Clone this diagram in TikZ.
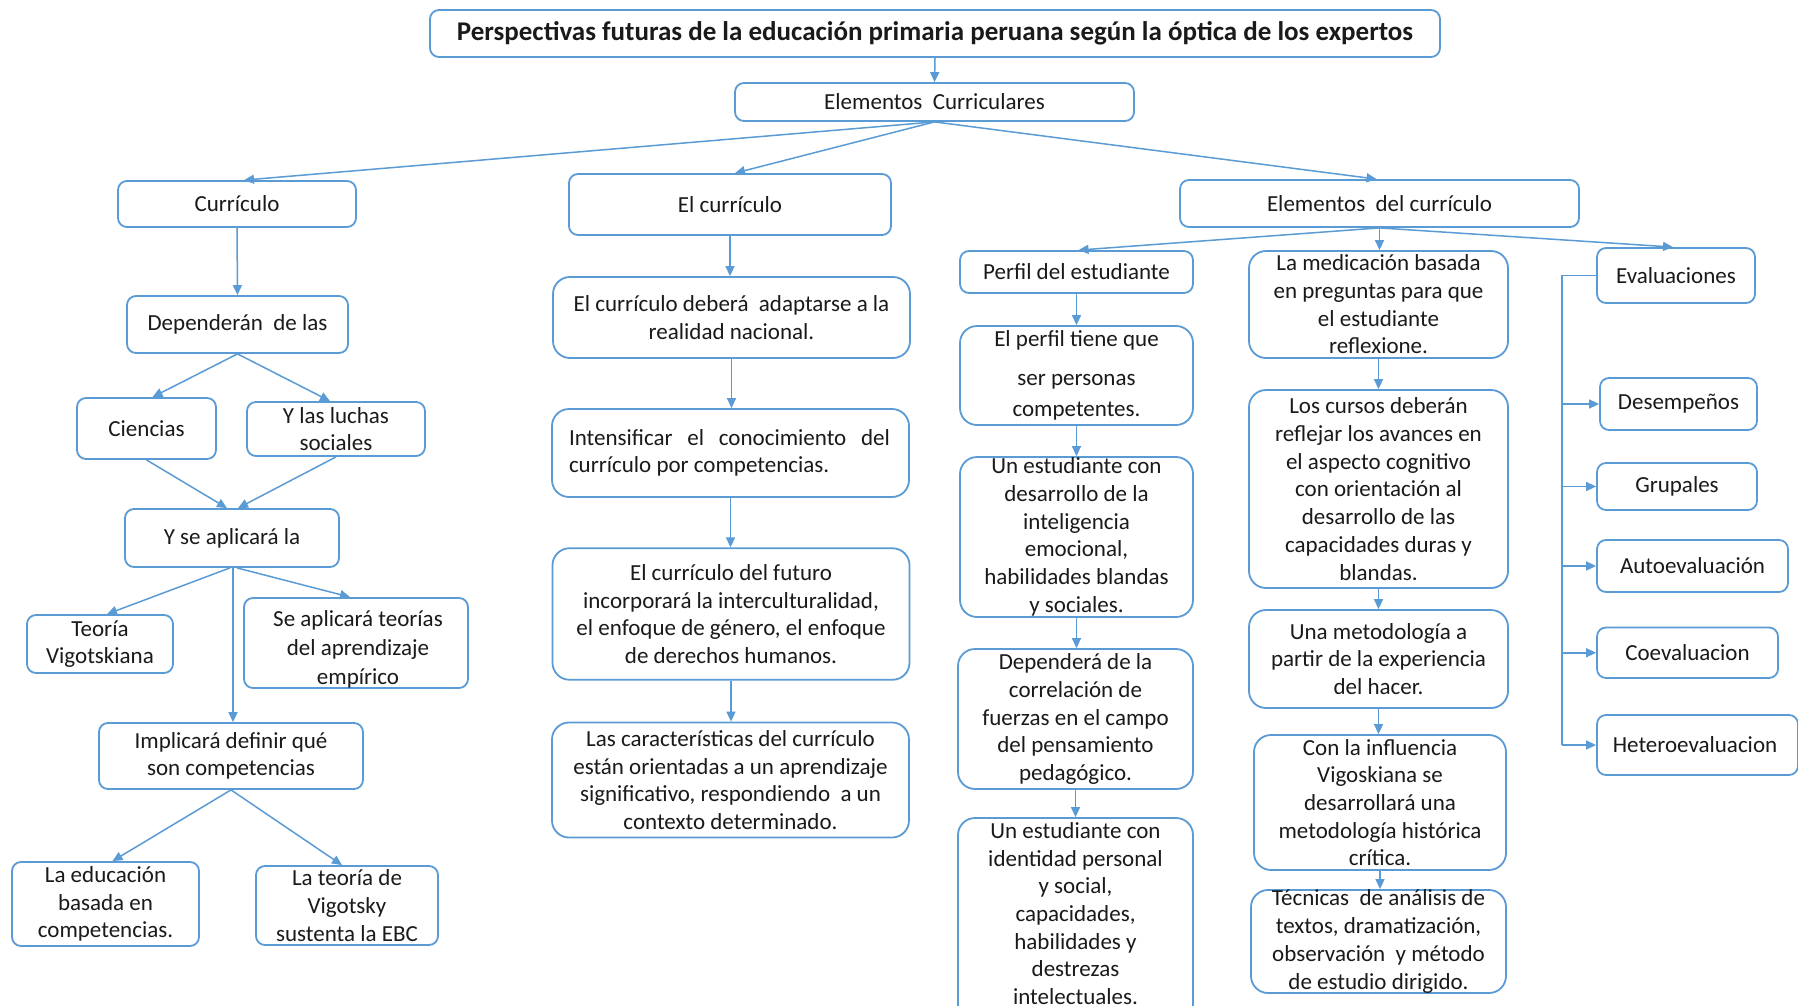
\documentclass[tikz,border=0pt]{standalone}
\usepackage{fontspec}
\setmainfont{Carlito}
\usetikzlibrary{arrows.meta,calc}
\definecolor{bl}{HTML}{5B9BD5}
\definecolor{tx}{HTML}{1A1A1A}
\newcommand{\fA}{\fontsize{23}{27.7}\selectfont}
\newcommand{\fM}{\fontsize{23}{27.6}\selectfont}
\newcommand{\fT}{\fontsize{27}{32}\selectfont\bfseries}
\begin{document}
\begin{tikzpicture}[x=1pt,y=-1pt,
 box/.style={draw=bl, line width=1.8pt, rounded corners=9pt, inner sep=0pt},
 bigbox/.style={box, rounded corners=17pt},
 txt/.style={align=center, inner sep=0pt, text=tx, font=\fA},
 mtxt/.style={align=center, inner sep=0pt, text=tx, font=\fM},
 arr/.style={draw=bl, line width=1.5pt, -{Triangle[length=10pt,width=9pt]}},
 ln/.style={draw=bl, line width=1.5pt}]
\useasboundingbox[fill=white] (0,0) rectangle (1798,1006);

% top
\node[box, minimum width=1010pt, minimum height=47pt] (T) at (935,33.5) {};
\node[txt, font=\fT] (Tt) at (T) {Perspectivas futuras de la educación primaria peruana según la óptica de los expertos};
\node[box, minimum width=399pt, minimum height=38pt] (EC) at (934.5,102) {};
\node[txt] (ECt) at (EC) {Elementos\ \ Curriculares};
\node[box, minimum width=238pt, minimum height=46pt] (CU) at (237,204) {};
\node[txt] (CUt) at (CU) {Currículo};
\node[box, minimum width=322pt, minimum height=61pt] (ELC) at (730,204.5) {};
\node[txt] (ELCt) at (ELC) {El currículo};
\node[box, minimum width=399pt, minimum height=47pt] (EDC) at (1379.5,203.5) {};
\node[txt] (EDCt) at (EDC) {Elementos\ \ del currículo};

% left tree
\node[box, minimum width=221pt, minimum height=57pt] (DEP) at (237.5,324.5) {};
\node[txt] (DEPt) at (DEP) {Dependerán\ \ de las};
\node[box, minimum width=139pt, minimum height=61pt] (CIE) at (146.5,428.5) {};
\node[txt] (CIEt) at (CIE) {Ciencias};
\node[box, minimum width=178pt, minimum height=54pt] (LUC) at (336,429) {};
\node[txt, font=\fontsize{23}{27}\selectfont] (LUCt) at (LUC) {Y las luchas\\sociales};
\node[box, minimum width=214pt, minimum height=58pt] (YSE) at (232,538) {};
\node[txt] (YSEt) at (YSE) {Y se aplicará la};
\node[box, minimum width=146pt, minimum height=58pt] (TEO) at (100,644) {};
\node[txt, font=\fontsize{23}{27}\selectfont] (TEOt) at (TEO) {Teoría\\Vigotskiana};
\node[box, minimum width=224pt, minimum height=90pt] (SEA) at (356,643) {};
\node[txt, font=\fontsize{23}{29}\selectfont] (SEAt) at (358,649) {Se aplicará teorías\\del aprendizaje\\empírico};
\node[box, minimum width=264pt, minimum height=66pt] (IMP) at (231,756) {};
\node[txt, font=\fontsize{23}{27}\selectfont] (IMPt) at (IMP) {Implicará definir qué\\son competencias};
\node[box, minimum width=187pt, minimum height=84pt] (LED) at (105.5,904) {};
\node[txt] (LEDt) at (LED) {La educación\\basada en\\competencias.};
\node[box, minimum width=182pt, minimum height=79pt] (LTV) at (347,905.5) {};
\node[txt] (LTVt) at (LTV) {La teoría de\\Vigotsky\\sustenta la EBC};

% middle column
\node[bigbox, minimum width=357pt, minimum height=81pt] (M1) at (731.5,317.5) {};
\node[mtxt] (M1t) at (M1) {El currículo deberá\ \ adaptarse a la\\realidad nacional.};
\node[bigbox, minimum width=357pt, minimum height=88pt] (M2) at (730.5,453) {};
\node[mtxt] (M2t) at (729.5,453) {\parbox{321pt}{\fM Intensificar\hfill el\hfill conocimiento\hfill del\\currículo por competencias.}};
\node[bigbox, minimum width=357pt, minimum height=131.5pt] (M3) at (731,614) {};
\node[mtxt] (M3t) at (M3) {El currículo del futuro\\incorporará la interculturalidad,\\el enfoque de género, el enfoque\\de derechos humanos.};
\node[bigbox, minimum width=357pt, minimum height=115pt] (M4) at (730.5,780) {};
\node[mtxt] (M4t) at (M4) {Las características del currículo\\están orientadas a un aprendizaje\\significativo, respondiendo\ \ a un\\contexto determinado.};

% column R1
\node[box, minimum width=233pt, minimum height=42pt] (PER) at (1076.5,272) {};
\node[txt] (PERt) at (PER) {Perfil del estudiante};
\node[bigbox, minimum width=233pt, minimum height=99pt] (EPT) at (1076.5,375.5) {};
\node[txt] (EPTt) at (EPT) {El perfil tiene que\\[11pt]ser personas\\[3pt]competentes.};
\node[bigbox, minimum width=233pt, minimum height=160pt] (UEC) at (1076.5,537) {};
\node[txt] (UECt) at (UEC) {Un estudiante con\\desarrollo de la\\inteligencia\\emocional,\\habilidades blandas\\y sociales.};
\node[bigbox, minimum width=235pt, minimum height=140pt] (DDL) at (1075.5,719) {};
\node[txt] (DDLt) at (DDL) {Dependerá de la\\correlación de\\fuerzas en el campo\\del pensamiento\\pedagógico.};
\node[bigbox, minimum width=235pt, minimum height=212pt] (UEI) at (1075.5,924) {};
\node[txt] (UEIt) at (1075.5,913.5) {Un estudiante con\\identidad personal\\y social,\\capacidades,\\habilidades y\\destrezas\\intelectuales.};

% column R2
\node[bigbox, minimum width=259pt, minimum height=107pt] (LMB) at (1378.5,304.5) {};
\node[txt] (LMBt) at (LMB) {La medicación basada\\en preguntas para que\\el estudiante\\reflexione.};
\node[bigbox, minimum width=259pt, minimum height=198pt] (LCD) at (1378.5,489) {};
\node[txt] (LCDt) at (LCD) {Los cursos deberán\\reflejar los avances en\\el aspecto cognitivo\\con orientación al\\desarrollo de las\\capacidades duras y\\blandas.};
\node[bigbox, minimum width=259pt, minimum height=98pt] (UMA) at (1378.5,659) {};
\node[txt] (UMAt) at (UMA) {Una metodología a\\partir de la experiencia\\del hacer.};
\node[bigbox, minimum width=252pt, minimum height=135pt] (CLI) at (1380,802.5) {};
\node[txt] (CLIt) at (CLI) {Con la influencia\\Vigoskiana se\\desarrollará una\\metodología histórica\\crítica.};
\node[bigbox, minimum width=255pt, minimum height=103pt] (TEC) at (1378.5,941.5) {};
\node[txt] (TECt) at (TEC) {Técnicas\ \ de análisis de\\textos, dramatización,\\observación\ \ y método\\de estudio dirigido.};

% column R3
\node[box, minimum width=158pt, minimum height=55pt] (EVA) at (1676,275.5) {};
\node[txt] (EVAt) at (EVA) {Evaluaciones};
\node[box, minimum width=157pt, minimum height=52pt] (DES) at (1678.5,404) {};
\node[txt] (DESt) at (DES) {Desempeños};
\node[box, minimum width=160pt, minimum height=47pt] (GRU) at (1677,486.5) {};
\node[txt] (GRUt) at (GRU) {Grupales};
\node[box, minimum width=191pt, minimum height=52pt] (AUT) at (1692.5,566) {};
\node[txt] (AUTt) at (AUT) {Autoevaluación};
\node[box, minimum width=181pt, minimum height=50.5pt] (COE) at (1687.5,652.75) {};
\node[txt] (COEt) at (COE) {Coevaluacion};
\node[box, minimum width=201pt, minimum height=60pt] (HET) at (1697.5,745) {};
\node[txt] (HETt) at (1695,745) {Heteroevaluacion};

% connectors
\draw[arr] (T.south) -- (EC.north);
\draw[arr] (EC.south) -- ([xshift=7pt]CU.north);
\draw[arr] (EC.south) -- ([xshift=5pt]ELC.north);
\draw[arr] (EC.south) -- ([xshift=-3pt]EDC.north);
\draw[arr] (CU.south) -- (DEP.north);
\draw[arr] (DEP.south) -- ([xshift=6pt]CIE.north);
\draw[arr] (DEP.south) -- ([xshift=-6pt]LUC.north);
\draw[arr] (CIE.south) -- ([xshift=-5pt]YSE.north);
\draw[arr] (LUC.south) -- ([xshift=6pt]YSE.north);
\draw[arr] ([xshift=-2pt]YSE.south) -- ([xshift=7pt]TEO.north);
\draw[arr] ([xshift=5pt]YSE.south) -- ([xshift=-6pt]SEA.north);
\draw[arr] ([xshift=1pt]YSE.south) -- ([xshift=1pt]YSE.south |- IMP.north);
\draw[arr] (IMP.south) -- ([xshift=7pt]LED.north);
\draw[arr] (IMP.south) -- ([xshift=-5pt]LTV.north);
\draw[arr] (ELC.south) -- (ELC.south |- M1.north);
\draw[arr] (M1.south) -- (M1.south |- M2.north);
\draw[arr] (M2.south) -- (M2.south |- M3.north);
\draw[arr] (M3.south) -- (M3.south |- M4.north);
\draw[arr] (EDC.south) -- ([xshift=2pt]PER.north);
\draw[arr] (EDC.south) -- (EDC.south |- LMB.north);
\draw[arr] (EDC.south) -- ([xshift=-3pt]EVA.north);
\draw[arr] (PER.south) -- (EPT.north);
\draw[arr] (EPT.south) -- (EPT.south |- UEC.north);
\draw[arr] (UEC.south) -- (UEC.south |- DDL.north);
\draw[arr] (DDL.south) -- (DDL.south |- UEI.north);
\draw[arr] (LMB.south) -- (LCD.north);
\draw[arr] (LCD.south) -- (LCD.south |- UMA.north);
\draw[arr] (UMA.south) -- (UMA.south |- CLI.north);
\draw[arr] (CLI.south) -- (CLI.south |- TEC.north);
\coordinate (tk) at (1562,275.5);
\coordinate (tb) at (1562,745);
\draw[ln] (EVA.west) -- (tk) -- (tb);
\draw[arr] (tb) -- (HET.west);
\draw[arr] (tk |- DES.west) -- (DES.west);
\draw[arr] (tk |- GRU.west) -- (GRU.west);
\draw[arr] (tk |- AUT.west) -- (AUT.west);
\draw[arr] (tk |- COE.west) -- (COE.west);
\end{tikzpicture}
\end{document}
